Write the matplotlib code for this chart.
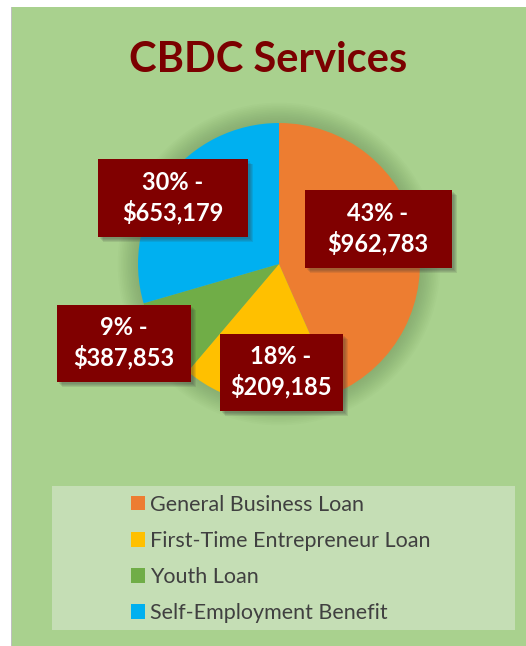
import matplotlib.pyplot as plt
from matplotlib.patches import Rectangle, Circle, Patch


# chart data
categories = ['General Business Loan', 'First-Time Entrepreneur Loan',
              'Youth Loan', 'Self-Employment Benefit']
shares = [43.4, 17.8, 9.3, 29.5]
pct_labels = ['43%', '18%', '9%', '30%']
amount_labels = ['$962,783', '$209,185', '$387,853', '$653,179']
colors = ['#ED7D31', '#FFC000', '#70AD47', '#00B0F0']

W, H = 526, 646


def fx(x):
    return x / W


def fy(y):
    return 1 - y / H


fig = plt.figure(figsize=(W / 100, H / 100), dpi=100)
fig.patch.set_facecolor('white')

# chart area background
fig.patches.append(Rectangle((fx(12), 0), 1 - fx(12), fy(7), transform=fig.transFigure,
                             facecolor='#A9D18E', edgecolor='none', zorder=-2))
fig.patches.append(Rectangle((fx(11), 0), fx(1), fy(7), transform=fig.transFigure,
                             facecolor='#BFBFBF', edgecolor='none', zorder=-2))

fig.text(fx(268), fy(60), 'CBDC Services', ha='center', va='center',
         fontsize=30, fontweight='bold', color='#7B0000', family='Lato')

# pie
cx, cy, r = 279, 264, 141
ax = fig.add_axes([fx(cx - r), fy(cy + r), 2 * r / W, 2 * r / H])
ax.set_zorder(1)
ax.set_xlim(-1, 1)
ax.set_ylim(-1, 1)
ax.set_aspect('equal')
ax.axis('off')

# soft shadow around pie
for i in range(12):
    ax.add_patch(Circle((0.0, 0.0), 1.0 + 0.012 * (12 - i), facecolor='#5E7F4A',
                        edgecolor='none', alpha=0.035, clip_on=False))

ax.pie(shares, colors=colors, startangle=90, counterclock=False, radius=1,
       wedgeprops=dict(linewidth=0))
ax.set_xlim(-1, 1)
ax.set_ylim(-1, 1)

# data label boxes (pixel centre, width, height)
boxes = [(378, 229, 147, 78), (281, 372, 123, 77), (124, 343, 134, 77), (173, 198, 150, 77)]
for (bx, by, bw, bh), p, a in zip(boxes, pct_labels, amount_labels):
    for k in range(4):
        off = 2 + k
        fig.patches.append(Rectangle((fx(bx - bw / 2 + off), fy(by + bh / 2 + off)),
                                     bw / W, bh / H, transform=fig.transFigure,
                                     facecolor='#3A3A3A', edgecolor='none',
                                     alpha=0.12, zorder=5))
    fig.patches.append(Rectangle((fx(bx - bw / 2), fy(by + bh / 2)), bw / W, bh / H,
                                 transform=fig.transFigure, facecolor='#800000',
                                 edgecolor='none', zorder=6))
    fig.text(fx(bx), fy(by), p + ' -\n' + a, ha='center', va='center',
             fontsize=17, fontweight='bold', color='white', family='Lato',
             linespacing=1.3, zorder=7)

# legend
fig.patches.append(Rectangle((fx(52), fy(630)), (515 - 52) / W, (630 - 486) / H,
                             transform=fig.transFigure, facecolor='#C5DEB5',
                             edgecolor='none', zorder=-1))
handles = [Patch(facecolor=c, edgecolor='none') for c in colors]
leg = fig.legend(handles, categories, loc='upper left',
                 bbox_to_anchor=(fx(122), fy(486)), frameon=False,
                 prop={'family': 'Lato', 'size': 15.5}, labelcolor='#404040',
                 handlelength=0.68, handleheight=0.68, handletextpad=0.2,
                 labelspacing=0.75, borderaxespad=0)

fig.savefig('out.png', dpi=100)
